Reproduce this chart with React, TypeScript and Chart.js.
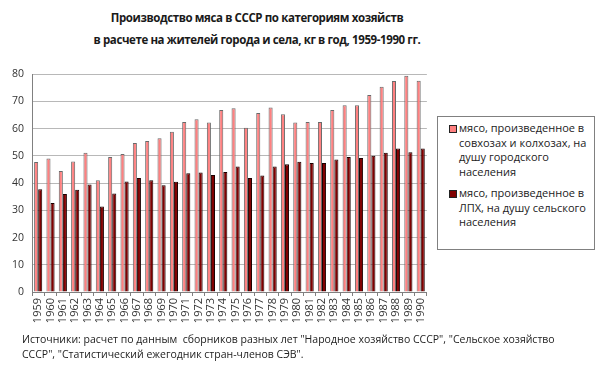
import React, { useEffect, useRef } from "react";
import { Chart, registerables } from "chart.js";

Chart.register(...registerables);

const years = [
  "1959", "1960", "1961", "1962", "1963", "1964", "1965", "1966", "1967", "1968",
  "1969", "1970", "1971", "1972", "1973", "1974", "1975", "1976", "1977", "1978",
  "1979", "1980", "1981", "1982", "1983", "1984", "1985", "1986", "1987", "1988",
  "1989", "1990",
];

const urbanMeat = [
  47.8, 49.1, 44.5, 48.0, 51.2, 41.1, 49.6, 50.7, 54.8, 55.5,
  56.5, 58.9, 62.5, 63.5, 62.3, 66.9, 67.5, 60.4, 65.8, 67.8,
  65.3, 62.3, 62.5, 62.5, 66.9, 68.6, 68.6, 72.4, 75.4, 77.5,
  79.5, 77.6,
];

const ruralMeat = [
  37.8, 32.7, 36.0, 37.6, 39.5, 31.4, 36.2, 40.6, 41.9, 41.1,
  39.2, 40.5, 43.6, 43.9, 43.0, 44.1, 46.1, 41.9, 42.8, 46.1,
  46.9, 47.9, 47.4, 47.4, 48.7, 49.6, 49.2, 50.1, 51.2, 52.7,
  51.4, 52.7,
];

const yTicks = [0, 10, 20, 30, 40, 50, 60, 70, 80];

const titleLines = [
  "Производство мяса в СССР по категориям хозяйств",
  "в расчете на жителей города и села, кг в год, 1959-1990 гг.",
];
const seriesNames = [
  "мясо, произведенное в совхозах и колхозах, на душу городского населения",
  "мясо, произведенное в ЛПХ, на душу сельского населения",
];
const sourceLines = [
  'Источники: расчет по данным  сборников разных лет "Народное хозяйство СССР", "Сельское хозяйство',
  'СССР", "Статистический ежегодник стран-членов СЭВ".',
];

const lightColor = "#ff8080";
const darkColor = "#800000";
const FONT = "'Open Sans', sans-serif";

export default function App() {
  const canvasRef = useRef<HTMLCanvasElement | null>(null);

  useEffect(() => {
    const canvas = canvasRef.current;
    if (!canvas) return;
    const chart = new Chart(canvas, {
      type: "bar",
      data: {
        labels: years,
        datasets: [
          {
            label: seriesNames[0],
            data: urbanMeat,
            backgroundColor: lightColor,
            borderColor: "#6a6a6a",
            borderWidth: 1,
            categoryPercentage: 0.66,
            barPercentage: 1,
          },
          {
            label: seriesNames[1],
            data: ruralMeat,
            backgroundColor: darkColor,
            borderColor: "#1a0000",
            borderWidth: 1,
            categoryPercentage: 0.66,
            barPercentage: 1,
          },
        ],
      },
      options: {
        animation: false,
        responsive: false,
        maintainAspectRatio: false,
        layout: { padding: { top: 12, right: 6, left: 0, bottom: 0 } },
        plugins: {
          legend: { display: false },
          title: { display: false },
          tooltip: { enabled: false },
        },
        scales: {
          x: {
            offset: true,
            grid: {
              display: true,
              drawOnChartArea: false,
              drawTicks: true,
              tickLength: 4,
              color: "#808080",
              offset: true,
            },
            border: { display: true, color: "#808080" },
            ticks: {
              minRotation: 90,
              maxRotation: 90,
              autoSkip: false,
              color: "#333333",
              padding: 2,
              font: { family: FONT, size: 11 },
            },
            afterFit: (scale: any) => {
              scale.height = 43;
            },
          },
          y: {
            min: 0,
            max: 80,
            afterBuildTicks: (scale: any) => {
              scale.ticks = yTicks.map((v) => ({ value: v }));
            },
            grid: {
              color: "#b8b8b8",
              drawTicks: false,
              lineWidth: 1,
            },
            border: { display: true, color: "#808080" },
            ticks: {
              color: "#333333",
              padding: 8,
              font: { family: FONT, size: 10.5 },
            },
            afterFit: (scale: any) => {
              scale.width = 32;
            },
          },
        },
      },
    });
    return () => chart.destroy();
  }, []);

  return (
    <div
      style={{
        position: "fixed",
        left: 0,
        top: 0,
        width: 600,
        height: 375,
        background: "#ffffff",
        fontFamily: FONT,
        color: "#1a1a1a",
        overflow: "hidden",
      }}
    >
      <div
        style={{
          position: "absolute",
          left: 0,
          top: 7,
          width: 514,
          textAlign: "center",
          fontWeight: 700,
          fontSize: 11.5,
          lineHeight: "22px",
          letterSpacing: -0.4,
        }}
      >
        {titleLines.map((t, i) => (
          <div key={i}>{t}</div>
        ))}
      </div>
      <canvas
        ref={canvasRef}
        width={436}
        height={275}
        style={{ position: "absolute", left: 0, top: 60, width: 436, height: 275 }}
      />
      <div
        style={{
          position: "absolute",
          left: 437,
          top: 116,
          width: 158,
          height: 134,
          boxSizing: "border-box",
          border: "1px solid #808080",
          padding: "4px 6px 0 11px",
          fontSize: 11,
          lineHeight: "14.5px",
          color: "#222",
        }}
      >
        {seriesNames.map((name, i) => (
          <div
            key={i}
            style={{ position: "relative", paddingLeft: 10, marginBottom: 7 }}
          >
            <span
              style={{
                position: "absolute",
                left: 0,
                top: 4,
                width: 6,
                height: 6,
                border: "1px solid #222",
                background: i === 0 ? lightColor : darkColor,
              }}
            />
            {name}
          </div>
        ))}
      </div>
      <div
        style={{
          position: "absolute",
          left: 22,
          top: 332,
          width: 570,
          fontSize: 10.5,
          lineHeight: "15px",
          color: "#222",
          whiteSpace: "pre",
        }}
      >
        {sourceLines.map((t, i) => (
          <div key={i}>{t}</div>
        ))}
      </div>
    </div>
  );
}
